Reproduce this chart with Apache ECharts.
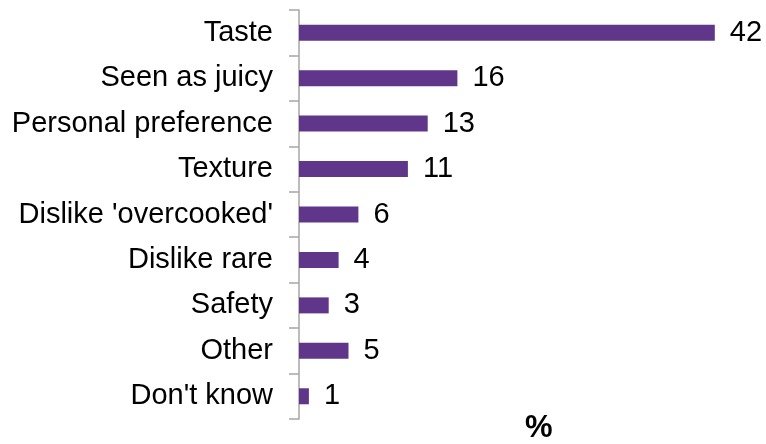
<!DOCTYPE html>
<html>
<head>
<meta charset="utf-8">
<script src="https://cdn.jsdelivr.net/npm/echarts@6/dist/echarts.min.js"></script>
<style>
  html, body { margin: 0; padding: 0; background: #fff; }
  #chart { width: 766px; height: 444px; }
</style>
</head>
<body>
<div id="chart"></div>
<script>
// Reasons given for preference, share of respondents (%)
const categories = [
  'Taste',
  'Seen as juicy',
  'Personal preference',
  'Texture',
  "Dislike 'overcooked'",
  'Dislike rare',
  'Safety',
  'Other',
  "Don't know"
];
const values = [42, 16, 13, 11, 6, 4, 3, 5, 1];

const FONT = '"Liberation Sans", Arial, sans-serif';
const chart = echarts.init(document.getElementById('chart'), null, { renderer: 'canvas' });

chart.setOption({
  animation: false,
  backgroundColor: '#ffffff',
  grid: { left: 299, right: 21.5, top: 10, bottom: 25, containLabel: false },
  xAxis: {
    type: 'value',
    min: 0,
    max: 45,
    show: false
  },
  yAxis: {
    type: 'category',
    data: categories,
    inverse: true,
    axisLine: { show: true, lineStyle: { color: '#a6a6a6', width: 1.5 } },
    axisTick: { show: true, length: 10, lineStyle: { color: '#a6a6a6', width: 1.5 } },
    axisLabel: { margin: 26, color: '#000', fontSize: 29, fontFamily: FONT }
  },
  series: [{
    type: 'bar',
    data: values,
    barWidth: 16,
    itemStyle: { color: '#5f3689' },
    label: {
      show: true,
      position: 'right',
      distance: 15,
      color: '#000',
      fontSize: 29,
      fontFamily: FONT
    }
  }],
  graphic: [{
    type: 'text',
    left: 525,
    top: 413,
    style: {
      text: '%',
      fill: '#000',
      font: 'bold 31px ' + FONT
    }
  }]
});
</script>
</body>
</html>
